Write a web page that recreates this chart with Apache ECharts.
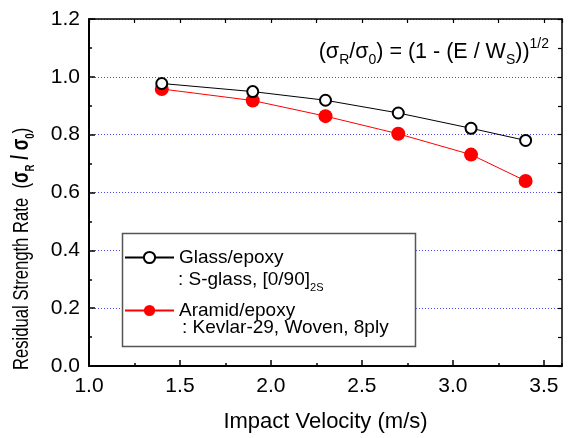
<!DOCTYPE html>
<html>
<head>
<meta charset="utf-8">
<script src="https://cdn.jsdelivr.net/npm/echarts@6/dist/echarts.min.js"></script>
<style>html,body{margin:0;padding:0;background:#fff;}#c{width:568px;height:438px;}</style>
</head>
<body>
<div id="c"></div>
<script>
const velocity = [1.4, 1.9, 2.3, 2.7, 3.1, 3.4];
const glassEpoxy = [0.977, 0.949, 0.919, 0.875, 0.822, 0.780];
const aramidEpoxy = [0.958, 0.918, 0.864, 0.803, 0.731, 0.640];
const seriesNames = ['Glass/epoxy', 'Aramid/epoxy'];
const legendSubLines = [': S-glass, [0/90]', ': Kevlar-29, Woven, 8ply'];
const xTitle = 'Impact Velocity (m/s)';
const yTitle = 'Residual Strength Rate  (';

const FONT = 'Liberation Sans, Arial, sans-serif';
const chart = echarts.init(document.getElementById('c'), null, {renderer: 'canvas'});

function pairs(xs, ys) { return xs.map((x, i) => [x, ys[i]]); }

const baseX = {type: 'value', min: 1.0, max: 3.6, gridIndex: 0};
const baseY = {type: 'value', min: 0, max: 1.2, gridIndex: 0};

const option = {
  animation: false,
  backgroundColor: '#fff',
  textStyle: {fontFamily: FONT},
  grid: {left: 89, right: 6, top: 19, bottom: 72, containLabel: false},
  xAxis: [
    Object.assign({}, baseX, {
      position: 'bottom', interval: 0.5,
      name: xTitle, nameLocation: 'middle', nameGap: 45,
      nameTextStyle: {fontSize: 22, color: '#000', fontFamily: FONT},
      axisLine: {show: true, onZero: false, lineStyle: {color: '#000', width: 2}},
      axisTick: {show: true, inside: true, length: 6, lineStyle: {color: '#000', width: 1.5}},
      axisLabel: {show: true, showMaxLabel: false, margin: 10, fontSize: 21, color: '#000', fontFamily: FONT,
        formatter: v => v.toFixed(1)},
      splitLine: {show: false}
    }),
    Object.assign({}, baseX, {
      position: 'bottom', interval: 0.25,
      axisLine: {show: false},
      axisTick: {show: true, inside: true, length: 3, lineStyle: {color: '#000', width: 1.5}},
      axisLabel: {show: false}, splitLine: {show: false}
    }),
    Object.assign({}, baseX, {
      position: 'top', interval: 0.25,
      axisLine: {show: true, onZero: false, lineStyle: {color: '#000', width: 1.5}},
      axisTick: {show: true, inside: true, length: 4, lineStyle: {color: '#000', width: 1.2}},
      axisLabel: {show: false}, splitLine: {show: false}
    })
  ],
  yAxis: [
    Object.assign({}, baseY, {
      position: 'left', interval: 0.2,
      axisLine: {show: true, onZero: false, lineStyle: {color: '#000', width: 2}},
      axisTick: {show: true, inside: true, length: 6, lineStyle: {color: '#000', width: 1.5}},
      minorTick: {show: true, splitNumber: 2, length: 3, lineStyle: {color: '#000', width: 1.5}},
      axisLabel: {show: true, margin: 9, fontSize: 21, color: '#000', fontFamily: FONT,
        formatter: v => v.toFixed(1)},
      splitLine: {show: true, lineStyle: {color: '#4a4aff', width: 1, type: [1, 2]}}
    }),
    Object.assign({}, baseY, {
      position: 'right', interval: 0.1,
      axisLine: {show: true, onZero: false, lineStyle: {color: '#000', width: 1.5}},
      axisTick: {show: true, inside: true, length: 4, lineStyle: {color: '#000', width: 1.2}},
      axisLabel: {show: false}, splitLine: {show: false}
    })
  ],
  legend: {
    show: true, orient: 'vertical', left: 124, top: 248, padding: 0,
    itemWidth: 49, itemHeight: 14, itemGap: 34,
    textStyle: {fontSize: 19, color: '#000', fontFamily: FONT},
    data: seriesNames,
    z: 6
  },
  graphic: [
    {type: 'rect', z: 3, shape: {x: 122.5, y: 233.5, width: 293, height: 113},
     style: {fill: '#fff', stroke: '#555', lineWidth: 1.5}},
    {type: 'text', z: 6, x: 178, y: 280,
     style: {text: '{n|' + legendSubLines[0] + '}{s|2S}', verticalAlign: 'middle', align: 'left',
       rich: {
         n: {fontSize: 19, fontFamily: FONT, fill: '#000', lineHeight: 26},
         s: {fontSize: 11, fontFamily: FONT, fill: '#000', lineHeight: 12, verticalAlign: 'bottom'}
       }}},
    {type: 'text', z: 6, x: 182, y: 328,
     style: {text: legendSubLines[1], verticalAlign: 'middle', align: 'left',
       fontSize: 19, fontFamily: FONT, fill: '#000'}},
    {type: 'text', z: 6, x: 549, y: 52,
     style: {
       text: '{n|(σ}{s|R}{n|/σ}{s|0}{n|) = (1 - (E / W}{s|S}{n|))}{p|1/2}',
       align: 'right', verticalAlign: 'middle',
       rich: {
         n: {fontSize: 21.5, fontFamily: FONT, fill: '#000', lineHeight: 30},
         s: {fontSize: 14, fontFamily: FONT, fill: '#000', lineHeight: 12, verticalAlign: 'bottom'},
         p: {fontSize: 14, fontFamily: FONT, fill: '#000', lineHeight: 12, verticalAlign: 'top'}
       }
     }},
    {type: 'text', z: 6, x: 22, y: 370, rotation: Math.PI / 2, scaleX: 0.74,
     style: {
       text: '{n|' + yTitle + '}{b|σ}{s|R}{b| / σ}{s|0}{n|)}',
       align: 'left', verticalAlign: 'middle',
       rich: {
         n: {fontSize: 22.5, fontFamily: FONT, fill: '#000', lineHeight: 30},
         b: {fontSize: 23, fontWeight: 'bold', fontFamily: FONT, fill: '#000', lineHeight: 30},
         s: {fontSize: 13, fontWeight: 'bold', fontFamily: FONT, fill: '#000', lineHeight: 13, verticalAlign: 'bottom'}
       }
     }}
  ],
  series: [
    {
      name: seriesNames[0], type: 'line', xAxisIndex: 0, yAxisIndex: 0,
      data: pairs(velocity, glassEpoxy),
      symbol: 'emptyCircle', symbolSize: 11, showAllSymbol: true,
      lineStyle: {color: '#000', width: 1},
      itemStyle: {color: '#000', borderColor: '#000', borderWidth: 2},
      z: 3
    },
    {
      name: seriesNames[1], type: 'line', xAxisIndex: 0, yAxisIndex: 0,
      data: pairs(velocity, aramidEpoxy),
      symbol: 'circle', symbolSize: 14, showAllSymbol: true,
      lineStyle: {color: '#ff0000', width: 1},
      itemStyle: {color: '#ff0000'},
      z: 2
    }
  ]
};
chart.setOption(option);
</script>
</body>
</html>
